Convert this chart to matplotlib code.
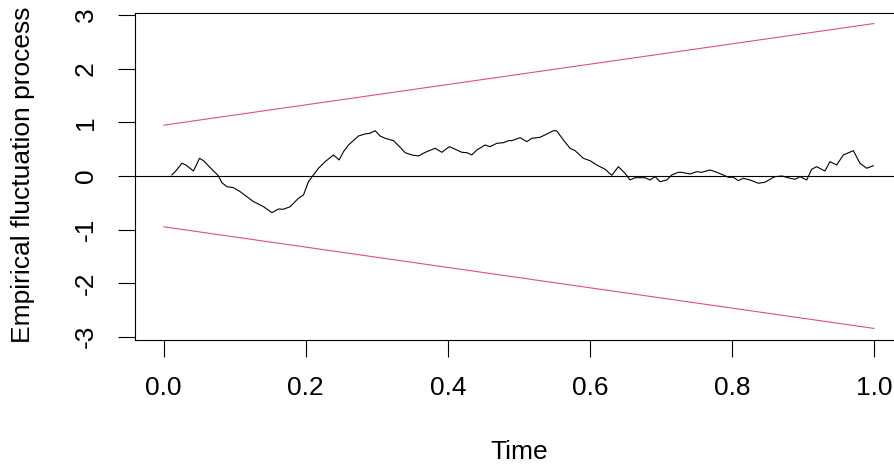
import matplotlib
matplotlib.use("Agg")
import matplotlib.pyplot as plt
import numpy as np

plt.rcParams["font.family"] = ["Liberation Sans", "DejaVu Sans"]
plt.rcParams["axes.unicode_minus"] = False

# ── Data (Rec-CUSUM style empirical fluctuation process) ──
time = [0.0115, 0.0162, 0.0256, 0.0312, 0.0419, 0.0504, 0.0560, 0.0631, 0.0725, 0.0771,
        0.0819, 0.0890, 0.0982, 0.1077, 0.1171, 0.1264, 0.1312, 0.1405, 0.1523, 0.1616,
        0.1686, 0.1780, 0.1897, 0.1968, 0.2038, 0.2108, 0.2179, 0.2273, 0.2390, 0.2470,
        0.2531, 0.2601, 0.2742, 0.2836, 0.2906, 0.2977, 0.3047, 0.3118, 0.3234, 0.3329,
        0.3399, 0.3493, 0.3586, 0.3657, 0.3704, 0.3821, 0.3916, 0.4022, 0.4127, 0.4197,
        0.4267, 0.4338, 0.4408, 0.4525, 0.4595, 0.4690, 0.4783, 0.4853, 0.4901, 0.5018,
        0.5112, 0.5182, 0.5299, 0.5416, 0.5486, 0.5534, 0.5627, 0.5721, 0.5792, 0.5908,
        0.6003, 0.6097, 0.6214, 0.6308, 0.6401, 0.6495, 0.6566, 0.6636, 0.6777, 0.6847,
        0.6918, 0.6988, 0.7082, 0.7153, 0.7246, 0.7293, 0.7410, 0.7504, 0.7575, 0.7692,
        0.7786, 0.7879, 0.7949, 0.8020, 0.8090, 0.8160, 0.8255, 0.8372, 0.8466, 0.8560,
        0.8607, 0.8705, 0.8818, 0.8888, 0.8958, 0.9053, 0.9123, 0.9193, 0.9310, 0.9380,
        0.9475, 0.9568, 0.9709, 0.9803, 0.9897, 0.9990]
process = [0.02, 0.08, 0.237, 0.205, 0.093, 0.33, 0.285, 0.187, 0.062, 0.0,
           -0.125, -0.2, -0.218, -0.293, -0.386, -0.479, -0.509, -0.573, -0.684, -0.616,
           -0.621, -0.573, -0.416, -0.354, -0.106, 0.019, 0.144, 0.267, 0.392, 0.299,
           0.453, 0.578, 0.746, 0.784, 0.797, 0.845, 0.746, 0.703, 0.659, 0.535,
           0.435, 0.392, 0.373, 0.424, 0.453, 0.517, 0.442, 0.547, 0.485, 0.442,
           0.435, 0.392, 0.485, 0.578, 0.547, 0.61, 0.621, 0.659, 0.659, 0.715,
           0.64, 0.703, 0.722, 0.797, 0.845, 0.84, 0.672, 0.517, 0.472, 0.33,
           0.285, 0.205, 0.125, 0.013, 0.173, 0.05, -0.075, -0.032, -0.032, -0.075,
           -0.013, -0.106, -0.075, 0.019, 0.069, 0.069, 0.037, 0.08, 0.069, 0.112,
           0.069, 0.019, -0.024, -0.024, -0.088, -0.043, -0.075, -0.136, -0.117, -0.043,
           -0.013, 0.0, -0.043, -0.062, -0.013, -0.075, 0.125, 0.173, 0.093, 0.267,
           0.205, 0.392, 0.472, 0.237, 0.144, 0.192]

# boundary lambda*(1 + 2t) at the two ends
bound_t = [0.0, 1.0]
bound_upper = [0.948, 2.844]
bound_lower = [-0.948, -2.844]

xticks = [0.0, 0.2, 0.4, 0.6, 0.8, 1.0]
xtick_labels = ["0.0", "0.2", "0.4", "0.6", "0.8", "1.0"]
yticks = [-3, -2, -1, 0, 1, 2, 3]

W, H = 895, 468
fig = plt.figure(figsize=(W / 100, H / 100), dpi=100)
left, right, top, bottom = 135.3, 902.4, 13.3, 340.0
ax = fig.add_axes([left / W, 1 - bottom / H, (right - left) / W, (bottom - top) / H])

red = "#DF536B"
ax.plot(time, process, color="black", lw=0.8)
ax.plot(bound_t, bound_upper, color=red, lw=0.8)
ax.plot(bound_t, bound_lower, color=red, lw=0.8)
ax.axhline(0, color="black", lw=0.8)

ax.set_xlim(-0.04, 1.04)
ax.set_ylim(-3.06, 3.035)
ax.set_xticks(xticks)
ax.set_xticklabels(xtick_labels)
ax.set_yticks(yticks)

FS = 19
for s in ax.spines.values():
    s.set_linewidth(0.8)
ax.tick_params(axis="both", direction="out", length=12.2, width=0.8,
               labelsize=FS, color="black")
ax.tick_params(axis="x", pad=14)
ax.tick_params(axis="y", pad=15, labelrotation=90)
for lab in ax.get_yticklabels():
    lab.set_va("center")

fig.text(519 / W, 1 - 452 / H, "Time", fontsize=FS, ha="center", va="center")
fig.text(23 / W, 1 - 175 / H, "Empirical fluctuation process", fontsize=FS,
         rotation=90, ha="center", va="center")

fig.savefig("out.png", dpi=100)
